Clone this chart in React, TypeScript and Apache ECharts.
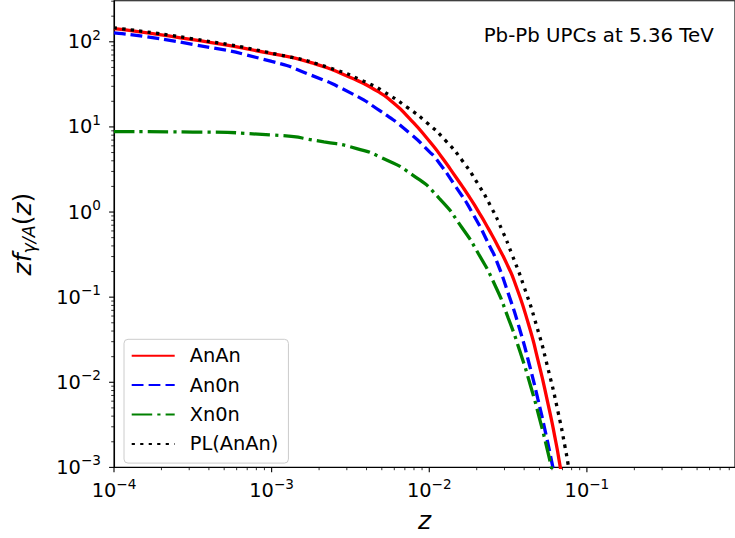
import React, { useEffect, useRef } from 'react';
import * as echarts from 'echarts';

// ---- data ----
const SERIES_NAMES = ['AnAn', 'An0n', 'Xn0n', 'PL(AnAn)'];

const zAnAn = [1e-4, 3.16e-4, 1e-3, 1.778e-3, 3.162e-3, 4.677e-3, 5.888e-3, 7.482e-3, 0.01, 0.01211, 0.01469, 0.01778, 0.02051, 0.02371, 0.02742, 0.03162, 0.03483, 0.04227, 0.04875, 0.05636, 0.06353, 0.0673, 0.06918];
const fAnAn = [143, 105.9, 72.4, 56.9, 38.0, 26.3, 19.3, 12.6, 6.84, 4.31, 2.6, 1.549, 1.012, 0.638, 0.389, 0.229, 0.1496, 0.0507, 0.01866, 0.00585, 0.00199, 0.001089, 0.000804];

const zAn0n = [1e-4, 3.16e-4, 1e-3, 1.687e-3, 3.162e-3, 4.853e-3, 7.482e-3, 0.01, 0.01099, 0.01469, 0.0191, 0.02432, 0.02679, 0.03162, 0.0375, 0.04325, 0.04875, 0.05508, 0.06053, 0.06237];
const fAn0n = [127.4, 93.3, 58.9, 42.2, 25.1, 15.5, 8.51, 5.13, 4.27, 2.0, 0.923, 0.389, 0.263, 0.1122, 0.0417, 0.01585, 0.00646, 0.0024, 0.001047, 0.000794];

const zXn0n = [1e-4, 3.162e-4, 1e-3, 2.148e-3, 3.467e-3, 4.977e-3, 7.852e-3, 0.01153, 0.01614, 0.02051, 0.02612, 0.03162, 0.0375, 0.04436, 0.05012, 0.05623, 0.05984, 0.06166];
const fXn0n = [8.81, 8.71, 8.04, 6.67, 5.57, 4.35, 2.72, 1.459, 0.653, 0.3236, 0.138, 0.0575, 0.02344, 0.00851, 0.00372, 0.001585, 0.000955, 0.000741];

const zPL = [1e-4, 3.16e-4, 1.107e-3, 2.3e-3, 4.21e-3, 5.14e-3, 7.21e-3, 9.66e-3, 0.01282, 0.01629, 0.02023, 0.02443, 0.0289, 0.0333, 0.0399, 0.0483, 0.0569, 0.0658, 0.0728, 0.0759, 0.0776];
const fPL = [145.6, 108.4, 70.6, 49.8, 31.8, 26.0, 17.1, 11.2, 6.78, 3.96, 2.18, 1.186, 0.619, 0.325, 0.133, 0.044, 0.014, 0.00438, 0.00171, 0.0011, 0.00083];

const X_MIN = 1e-4;
const X_MAX = 0.87;
const Y_MIN = 1e-3;
const Y_MAX = 304;

const xMajorTicks = [1e-4, 1e-3, 1e-2, 1e-1];
const xMinorTicks = [
  2e-4, 3e-4, 4e-4, 5e-4, 6e-4, 7e-4, 8e-4, 9e-4,
  2e-3, 3e-3, 4e-3, 5e-3, 6e-3, 7e-3, 8e-3, 9e-3,
  0.02, 0.03, 0.04, 0.05, 0.06, 0.07, 0.08, 0.09,
  0.2, 0.3, 0.4, 0.5, 0.6, 0.7, 0.8,
];
const yMajorTicks = [1e-3, 1e-2, 1e-1, 1, 10, 100];
const yMinorTicks = [
  2e-3, 3e-3, 4e-3, 5e-3, 6e-3, 7e-3, 8e-3, 9e-3,
  0.02, 0.03, 0.04, 0.05, 0.06, 0.07, 0.08, 0.09,
  0.2, 0.3, 0.4, 0.5, 0.6, 0.7, 0.8, 0.9,
  2, 3, 4, 5, 6, 7, 8, 9,
  20, 30, 40, 50, 60, 70, 80, 90,
  200, 300,
];

const ANNOTATION = 'Pb-Pb UPCs at 5.36 TeV';

const FONT = 'DejaVu Sans';
const LW = 3.3;

function powLabel(v: number): string {
  const e = Math.round(Math.log10(v));
  const s = e < 0 ? '\u2212' + String(-e) : String(e);
  return '{b|10}{s|' + s + '}';
}

const labelRich = {
  b: { fontSize: 19.4, lineHeight: 28, fontFamily: FONT, color: '#000' },
  s: { fontSize: 13.6, lineHeight: 14, verticalAlign: 'top', fontFamily: FONT, color: '#000' },
};

export default function App() {
  const ref = useRef<HTMLDivElement>(null);

  useEffect(() => {
    if (!ref.current) return;
    const chart = echarts.init(ref.current, null, { renderer: 'svg' });

    const pairs = (zs: number[], fs: number[]) => zs.map((z, i) => [z, fs[i]]);

    const xTickData = [
      ...xMajorTicks.map((v) => [v, Y_MIN, 1]),
      ...xMinorTicks.filter((v) => v <= X_MAX).map((v) => [v, Y_MIN, 0]),
    ];
    const yTickData = [
      ...yMajorTicks.map((v) => [X_MIN, v, 1]),
      ...yMinorTicks.filter((v) => v <= Y_MAX).map((v) => [X_MIN, v, 0]),
    ];

    const lineSeries = (name: string, data: number[][], color: string, type: any) => ({
      name,
      type: 'line',
      data,
      symbol: 'none',
      showSymbol: false,
      smooth: 0.65,
      clip: true,
      lineStyle: { color, width: LW, type, cap: 'butt' },
      itemStyle: { color },
      silent: true,
    });

    const option: any = {
      animation: false,
      backgroundColor: '#ffffff',
      grid: {
        left: 114,
        top: 0.7,
        width: 629.1,
        height: 470.9,
        show: true,
        borderColor: '#000',
        borderWidth: 1.1,
        backgroundColor: 'transparent',
        containLabel: false,
      },
      xAxis: {
        type: 'log',
        logBase: 10,
        min: X_MIN,
        max: X_MAX,
        name: 'z',
        nameLocation: 'middle',
        nameGap: 40.6,
        nameTextStyle: {
          fontFamily: FONT,
          fontSize: 25,
          fontStyle: 'italic',
          color: '#000',
          lineHeight: 25,
        },
        axisLine: { show: true, lineStyle: { color: '#000', width: 1.1 } },
        axisTick: { show: false },
        minorTick: { show: false },
        splitLine: { show: false },
        axisLabel: {
          margin: 9.5,
          showMaxLabel: false,
          showMinLabel: true,
          formatter: (v: number) => powLabel(v),
          rich: labelRich,
        },
      },
      yAxis: {
        type: 'log',
        logBase: 10,
        min: Y_MIN,
        max: Y_MAX,
        name: '{i|zf}{sub|\u03b3/A}{n|(}{i|z}{n|)}',
        nameLocation: 'middle',
        nameRotate: 90,
        nameGap: 76,
        nameTextStyle: {
          color: '#000',
          rich: {
            i: { fontFamily: FONT, fontSize: 25, fontStyle: 'italic', lineHeight: 32, color: '#000' },
            n: { fontFamily: FONT, fontSize: 25, lineHeight: 32, color: '#000' },
            sub: { fontFamily: FONT, fontSize: 17.5, fontStyle: 'italic', lineHeight: 16, verticalAlign: 'bottom', color: '#000' },
          },
        },
        axisLine: { show: true, lineStyle: { color: '#000', width: 1.1 } },
        axisTick: { show: false },
        minorTick: { show: false },
        splitLine: { show: false },
        axisLabel: {
          margin: 13,
          showMaxLabel: false,
          showMinLabel: true,
          align: 'right',
          formatter: (v: number) => powLabel(v),
          rich: labelRich,
        },
      },
      legend: {
        show: true,
        data: SERIES_NAMES,
        orient: 'vertical',
        left: 124,
        top: 339.3,
        itemWidth: 43,
        itemHeight: 20,
        itemGap: 9.4,
        padding: [6.4, 10, 9.2, 6.7],
        backgroundColor: 'rgba(255,255,255,0.8)',
        borderColor: '#cccccc',
        borderWidth: 1,
        borderRadius: 4,
        selectedMode: false,
        itemStyle: { opacity: 0, borderWidth: 0 },
        textStyle: {
          fontFamily: FONT,
          fontSize: 19.4,
          lineHeight: 20,
          color: '#000',
          padding: [0, 0, 0, 10],
        },
      },
      graphic: [
        {
          type: 'text',
          x: 713.8,
          y: 35.6,
          silent: true,
          style: {
            text: ANNOTATION,
            fontFamily: FONT,
            fontSize: 19.8,
            fill: '#000',
            align: 'right',
            verticalAlign: 'middle',
          },
        },
      ],
      series: [
        lineSeries(SERIES_NAMES[0], pairs(zAnAn, fAnAn), '#ff0000', 'solid'),
        lineSeries(SERIES_NAMES[1], pairs(zAn0n, fAn0n), '#0000ff', [11.8, 5.1]),
        lineSeries(SERIES_NAMES[2], pairs(zXn0n, fXn0n), '#008000', [20.5, 5.1, 3.2, 5.1]),
        lineSeries(SERIES_NAMES[3], pairs(zPL, fPL), '#000000', [3.2, 5.3]),
        {
          name: 'xticks',
          type: 'custom',
          silent: true,
          clip: false,
          data: xTickData,
          encode: { x: 0, y: 1 },
          renderItem: (_p: any, api: any) => {
            const major = api.value(2) === 1;
            const pt = api.coord([api.value(0), api.value(1)]);
            const len = major ? 4.9 : 2.8;
            return {
              type: 'line',
              shape: { x1: pt[0], y1: pt[1], x2: pt[0], y2: pt[1] + len },
              style: { stroke: '#000', lineWidth: major ? 1.1 : 0.8 },
            };
          },
        },
        {
          name: 'yticks',
          type: 'custom',
          silent: true,
          clip: false,
          data: yTickData,
          encode: { x: 0, y: 1 },
          renderItem: (_p: any, api: any) => {
            const major = api.value(2) === 1;
            const pt = api.coord([api.value(0), api.value(1)]);
            const len = major ? 4.9 : 2.8;
            return {
              type: 'line',
              shape: { x1: pt[0] - len, y1: pt[1], x2: pt[0], y2: pt[1] },
              style: { stroke: '#000', lineWidth: major ? 1.1 : 0.8 },
            };
          },
        },
      ],
    };

    chart.setOption(option);
    return () => {
      chart.dispose();
    };
  }, []);

  return (
    <div
      ref={ref}
      style={{ position: 'fixed', left: 0, top: 0, width: 735, height: 538, background: '#fff' }}
    />
  );
}
